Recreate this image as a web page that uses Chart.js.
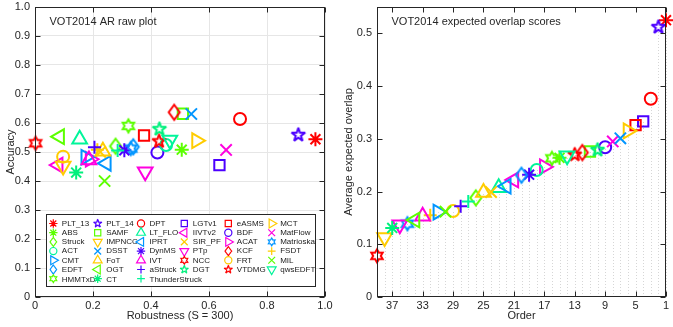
<!DOCTYPE html>
<html>
<head>
<meta charset="utf-8">
<script src="https://cdn.jsdelivr.net/npm/chart.js"></script>
<style>
  body { margin: 0; background: #fff; overflow: hidden; }
  #wrap { position: relative; width: 673px; height: 327px; }
  #left { position: absolute; left: 0; top: 0; }
  #right { position: absolute; left: 336px; top: 0; }
</style>
</head>
<body>
<div id="wrap">
  <canvas id="left" width="336" height="327"></canvas>
  <canvas id="right" width="337" height="327"></canvas>
</div>
<script>
// VOT2014: valores (orden de la leyenda, por filas)
const trackers = ['PLT_13', 'PLT_14', 'DPT', 'LGTv1', 'eASMS', 'MCT',
  'ABS', 'SAMF', 'LT_FLO', 'IIVTv2', 'BDF', 'MatFlow',
  'Struck', 'IMPNCC', 'IPRT', 'SIR_PF', 'ACAT', 'Matrioska',
  'ACT', 'DSST', 'DynMS', 'PTp', 'KCF', 'FSDT',
  'CMT', 'FoT', 'IVT', 'NCC', 'FRT', 'MIL',
  'EDFT', 'OGT', 'aStruck', 'DGT', 'VTDMG', 'qwsEDFT',
  'HMMTxD', 'CT', 'ThunderStruck']

const robustness = [0.967, 0.908, 0.707, 0.636, 0.376, 0.557,
  0.506, 0.510, 0.154, 0.080, 0.422, 0.659,
  0.278, 0.097, 0.246, 0.225, 0.190, 0.330,
  0.452, 0.539, 0.308, 0.380, 0.480, 0.215,
  0.175, 0.234, 0.186, 0.002, 0.097, 0.240,
  0.339, 0.085, 0.205, 0.429, 0.428, 0.465,
  0.322, 0.142, 0.285]

const accuracy = [0.544, 0.559, 0.614, 0.455, 0.557, 0.539,
  0.508, 0.632, 0.544, 0.455, 0.498, 0.507,
  0.520, 0.452, 0.461, 0.500, 0.475, 0.512,
  0.524, 0.631, 0.506, 0.432, 0.637, 0.508,
  0.482, 0.503, 0.472, 0.530, 0.484, 0.400,
  0.518, 0.553, 0.516, 0.579, 0.537, 0.541,
  0.590, 0.429, 0.505]

const order = [1, 2, 3, 4, 5, 6,
  15, 11, 23, 21, 9, 8,
  26, 38, 22, 24, 17, 35,
  18, 7, 19, 36, 12, 32,
  31, 25, 33, 39, 29, 30,
  20, 34, 28, 10, 13, 14,
  16, 37, 27]

const overlap = [0.525, 0.512, 0.376, 0.333, 0.326, 0.315,
  0.264, 0.276, 0.207, 0.222, 0.284, 0.295,
  0.188, 0.113, 0.210, 0.199, 0.247, 0.139,
  0.241, 0.301, 0.232, 0.137, 0.274, 0.155,
  0.161, 0.198, 0.153, 0.078, 0.163, 0.162,
  0.231, 0.146, 0.172, 0.279, 0.270, 0.268,
  0.263, 0.131, 0.181]

const robTicks = [0, 0.2, 0.4, 0.6, 0.8, 1]
const accTicks = [0, 0.1, 0.2, 0.3, 0.4, 0.5, 0.6, 0.7, 0.8, 0.9, 1]
const overlapTicks = [0, 0.1, 0.2, 0.3, 0.4, 0.5]
const orderTicks = [37, 33, 29, 25, 21, 17, 13, 9, 5, 1]

// estilos de cada tracker (color y marcador)
const palette = {
  red: '#ff0000', violet: '#4c00ff', yellow: '#ffcc00', lime: '#5cff00',
  spring: '#00f59a', teal: '#00f07c', azure: '#0095ff', magenta: '#ff00e0'
}
const trackerColor = ['red', 'violet', 'red', 'violet', 'red', 'yellow',
  'lime', 'lime', 'spring', 'magenta', 'violet', 'magenta',
  'lime', 'yellow', 'azure', 'yellow', 'magenta', 'azure',
  'spring', 'azure', 'violet', 'magenta', 'red', 'yellow',
  'azure', 'yellow', 'magenta', 'red', 'yellow', 'lime',
  'azure', 'lime', 'violet', 'teal', 'red', 'spring',
  'lime', 'teal', 'spring']
const trackerMarker = ['asterisk', 'pentagram', 'circle', 'square', 'square', 'triRight',
  'asterisk', 'square', 'triUp', 'triLeft', 'circle', 'x',
  'diamond', 'triDown', 'triLeft', 'x', 'triRight', 'hexagram',
  'circle', 'x', 'asterisk', 'triDown', 'diamond', 'plus',
  'triRight', 'triUp', 'triUp', 'hexagram', 'circle', 'x',
  'diamond', 'triLeft', 'plus', 'pentagram', 'pentagram', 'triDown',
  'hexagram', 'asterisk', 'plus']

Chart.defaults.font.family = "'Liberation Sans', Arial, Helvetica, sans-serif"
Chart.defaults.font.size = 11
Chart.defaults.color = '#262626'

// marcadores que chart.js no tiene: estrellas y rombo de matlab
let cache = {}
function shapeCanvas(kind, color) {
  let key = kind + color
  if (cache[key]) return cache[key]
  let c = document.createElement('canvas')
  let g
  if (kind == 'diamond') {
    c.width = 16; c.height = 20
    g = c.getContext('2d')
    g.strokeStyle = color; g.lineWidth = 2
    g.beginPath()
    g.moveTo(8, 2.5); g.lineTo(13.5, 10); g.lineTo(8, 17.5); g.lineTo(2.5, 10)
    g.closePath(); g.stroke()
  } else {
    let n = kind == 'pentagram' ? 5 : 6
    let R = kind == 'pentagram' ? 7.2 : 6.6
    let ri = kind == 'pentagram' ? R * 0.382 : R / Math.sqrt(3)
    c.width = 22; c.height = 22
    g = c.getContext('2d')
    g.strokeStyle = color; g.lineWidth = 2; g.lineJoin = 'miter'; g.miterLimit = 3
    g.beginPath()
    for (let k = 0; k < 2 * n; k++) {
      let a = -Math.PI / 2 + k * Math.PI / n
      let r = k % 2 ? ri : R
      g.lineTo(11 + r * Math.cos(a), 11 + r * Math.sin(a))
    }
    g.closePath(); g.stroke()
  }
  cache[key] = c
  return c
}

function markerFor(kind, color) {
  switch (kind) {
    case 'asterisk': return {style: 'star', radius: 7, rot: 0}
    case 'circle': return {style: 'circle', radius: 6, rot: 0}
    case 'square': return {style: 'rect', radius: 7.3, rot: 0}
    case 'triUp': return {style: 'triangle', radius: 8.5, rot: 0}
    case 'triDown': return {style: 'triangle', radius: 8.5, rot: 180}
    case 'triLeft': return {style: 'triangle', radius: 8.5, rot: 270}
    case 'triRight': return {style: 'triangle', radius: 8.5, rot: 90}
    case 'x': return {style: 'crossRot', radius: 8, rot: 0}
    case 'plus': return {style: 'cross', radius: 6.5, rot: 0}
    default: return {style: shapeCanvas(kind, color), radius: 8, rot: 0}
  }
}

function makeDatasets(xs, ys) {
  return trackers.map(function (name, i) {
    let color = palette[trackerColor[i]]
    let m = markerFor(trackerMarker[i], color)
    return {
      label: name,
      data: [{x: xs[i], y: ys[i]}],
      pointStyle: m.style,
      pointRotation: m.rot,
      pointRadius: m.radius,
      pointHoverRadius: m.radius,
      pointBorderColor: color,
      pointBackgroundColor: 'rgba(0,0,0,0)',
      pointBorderWidth: 2,
      showLine: false,
      clip: false,
      order: trackers.length - i
    }
  })
}

// caja, marcas hacia dentro y titulo dentro del grafico
const framePlugin = {
  id: 'frame',
  afterDraw(chart, args, opts) {
    let ctx = chart.ctx
    let a = chart.chartArea
    let sx = chart.scales.x, sy = chart.scales.y
    let l = Math.round(a.left) + 0.5, r = Math.round(a.right) - 0.5
    let t = Math.round(a.top) + 0.5, b = Math.round(a.bottom) - 0.5
    ctx.save()
    ctx.strokeStyle = '#262626'
    ctx.lineWidth = 1
    ctx.beginPath()
    sx.ticks.forEach(function (tk) {
      let px = Math.round(sx.getPixelForValue(tk.value)) + 0.5
      ctx.moveTo(px, b); ctx.lineTo(px, b - 5)
      ctx.moveTo(px, t); ctx.lineTo(px, t + 5)
    })
    sy.ticks.forEach(function (tk) {
      let py = Math.round(sy.getPixelForValue(tk.value)) + 0.5
      ctx.moveTo(l, py); ctx.lineTo(l + 5, py)
      ctx.moveTo(r, py); ctx.lineTo(r - 5, py)
    })
    ctx.stroke()
    ctx.strokeRect(l, t, r - l, b - t)
    ctx.fillStyle = '#262626'
    ctx.font = "11px 'Liberation Sans', Arial, sans-serif"
    ctx.textBaseline = 'middle'
    ctx.textAlign = 'left'
    ctx.fillText(opts.text, a.left + 14.5, 21.5)
    ctx.restore()
  }
}

// leyenda tipo matlab dentro del grafico izquierdo
const legendCols = [53.3, 97.7, 141, 184.3, 228.3, 271.7]
const legendPlugin = {
  id: 'matLegend',
  afterDatasetsDraw(chart) {
    let ctx = chart.ctx
    ctx.save()
    ctx.fillStyle = '#fff'
    ctx.fillRect(46, 214, 269, 72)
    ctx.strokeStyle = '#262626'
    ctx.lineWidth = 1
    ctx.strokeRect(46.5, 214.5, 269, 72)
    ctx.font = "8px 'Liberation Sans', Arial, sans-serif"
    ctx.textBaseline = 'middle'
    trackers.forEach(function (name, i) {
      let col = i % 6, row = Math.floor(i / 6)
      let mx = legendCols[col]
      let my = 223.5 + row * 9.2
      let color = palette[trackerColor[i]]
      let m = markerFor(trackerMarker[i], color)
      ctx.save()
      ctx.translate(mx, my)
      ctx.scale(0.6, 0.6)
      ctx.strokeStyle = color
      ctx.fillStyle = 'rgba(0,0,0,0)'
      ctx.lineWidth = 2
      Chart.helpers.drawPoint(ctx, {pointStyle: m.style, rotation: m.rot, radius: m.radius, borderWidth: 2}, 0, 0)
      ctx.restore()
      ctx.fillStyle = '#1a1a1a'
      ctx.fillText(name, mx + 8.5, my + (row == 6 ? 1.5 : 0))
    })
    ctx.restore()
  }
}

// lineas punteadas verticales del grafico de orden
const stemPlugin = {
  id: 'stems',
  beforeDatasetsDraw(chart) {
    let ctx = chart.ctx
    let sx = chart.scales.x, sy = chart.scales.y
    let y0 = sy.getPixelForValue(0)
    ctx.save()
    ctx.strokeStyle = '#d6d6d6'
    ctx.lineWidth = 1
    ctx.setLineDash([1, 2])
    order.forEach(function (o, i) {
      let px = Math.round(sx.getPixelForValue(o)) + 0.5
      ctx.beginPath()
      ctx.moveTo(px, y0)
      ctx.lineTo(px, sy.getPixelForValue(overlap[i]))
      ctx.stroke()
    })
    ctx.restore()
  }
}

function tickList(values) {
  return function (s) { s.ticks = values.map(function (v) { return {value: v} }) }
}

let izquierda = new Chart(document.getElementById('left').getContext('2d'), {
  type: 'scatter',
  data: {datasets: makeDatasets(robustness, accuracy)},
  options: {
    responsive: false,
    animation: false,
    devicePixelRatio: 1,
    events: [],
    layout: {autoPadding: false, padding: {left: 0, right: 11, top: 7, bottom: 0}},
    plugins: {legend: {display: false}, tooltip: {enabled: false}, frame: {text: 'VOT2014 AR raw plot'}},
    scales: {
      x: {
        type: 'linear', min: 0, max: 1,
        afterBuildTicks: tickList(robTicks),
        afterFit: function (s) { s.height = 30 },
        grid: {color: '#e6e6e6', drawTicks: false},
        border: {display: false},
        ticks: {padding: 2, autoSkip: false, maxRotation: 0},
        title: {display: true, text: 'Robustness (S = 300)', padding: {top: 0, bottom: 4}}
      },
      y: {
        type: 'linear', min: 0, max: 1,
        afterBuildTicks: tickList(accTicks),
        afterFit: function (s) { s.width = 35 },
        grid: {color: '#e6e6e6', drawTicks: true, tickLength: 5, tickColor: 'rgba(0,0,0,0)'},
        border: {display: false},
        ticks: {padding: 0, autoSkip: false},
        title: {display: true, text: 'Accuracy', padding: {top: 4, bottom: 0}}
      }
    }
  },
  plugins: [legendPlugin, framePlugin]
})

let derecha = new Chart(document.getElementById('right').getContext('2d'), {
  type: 'scatter',
  data: {datasets: makeDatasets(order, overlap)},
  options: {
    responsive: false,
    animation: false,
    devicePixelRatio: 1,
    events: [],
    layout: {autoPadding: false, padding: {left: 0, right: 7, top: 7, bottom: 0}},
    plugins: {legend: {display: false}, tooltip: {enabled: false}, frame: {text: 'VOT2014 expected overlap scores'}},
    scales: {
      x: {
        type: 'linear', min: 1, max: 39, reverse: true,
        afterBuildTicks: tickList(orderTicks),
        afterFit: function (s) { s.height = 30 },
        grid: {display: false, drawTicks: false},
        border: {display: false},
        ticks: {padding: 2, autoSkip: false, maxRotation: 0},
        title: {display: true, text: 'Order', padding: {top: 0, bottom: 4}}
      },
      y: {
        type: 'linear', min: 0, max: 0.55,
        afterBuildTicks: tickList(overlapTicks),
        afterFit: function (s) { s.width = 41 },
        grid: {display: false, drawTicks: true, tickLength: 5},
        border: {display: false},
        ticks: {padding: 0, autoSkip: false},
        title: {display: true, text: 'Average expected overlap', padding: {top: 6, bottom: 0}}
      }
    }
  },
  plugins: [stemPlugin, framePlugin]
})
</script>
</body>
</html>
